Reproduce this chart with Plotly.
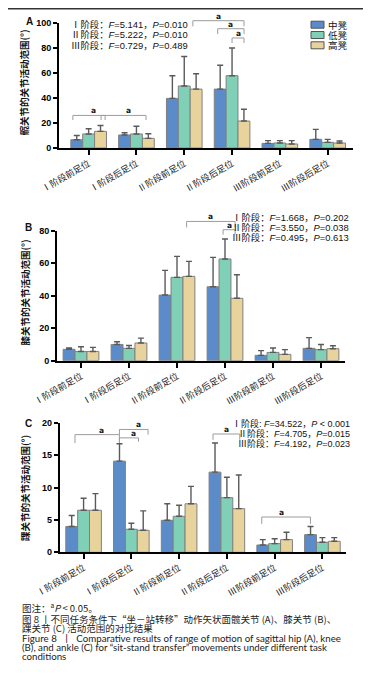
import plotly.graph_objects as go

W, H = 371, 692

categories = ["Ⅰ阶段前足位", "Ⅰ阶段后足位", "Ⅱ阶段前足位", "Ⅱ阶段后足位", "Ⅲ阶段前足位", "Ⅲ阶段后足位"]
series_names = ["中凳", "低凳", "高凳"]
series_colors = ["#5B8BC9", "#7FD0B7", "#E8D39D"]

# Hip (A)
hip_mean = {"中凳": [6.6, 10.4, 39.6, 47.0, 3.7, 6.9],
            "低凳": [11.2, 11.2, 49.5, 57.7, 4.0, 4.5],
            "高凳": [13.3, 7.7, 47.0, 21.5, 3.2, 4.0]}
hip_sd = {"中凳": [3.4, 1.8, 18.1, 19.0, 2.2, 8.0],
          "低凳": [4.2, 6.1, 23.5, 22.1, 1.9, 2.4],
          "高凳": [4.7, 3.7, 12.3, 9.4, 2.7, 1.6]}
# Knee (B)
knee_mean = {"中凳": [7.0, 10.0, 40.4, 45.5, 3.3, 7.6],
             "低凳": [5.7, 7.6, 51.3, 62.6, 5.1, 6.8],
             "高凳": [5.7, 10.9, 51.9, 38.4, 3.9, 7.4]}
knee_sd = {"中凳": [0.8, 1.7, 15.2, 18.1, 2.9, 6.6],
           "低凳": [2.9, 1.8, 12.9, 12.3, 2.7, 3.2],
           "高凳": [2.5, 3.0, 9.2, 14.5, 2.9, 1.8]}
# Ankle (C)
ankle_mean = {"中凳": [4.0, 14.1, 4.95, 12.4, 1.13, 2.73],
              "低凳": [6.5, 3.56, 5.57, 8.45, 1.34, 1.55],
              "高凳": [6.5, 3.4, 7.5, 6.75, 1.96, 1.7]}
ankle_sd = {"中凳": [1.7, 2.7, 2.55, 4.5, 0.83, 1.27],
            "低凳": [1.85, 0.94, 1.7, 3.15, 0.76, 0.72],
            "高凳": [2.57, 3.0, 2.7, 5.21, 1.14, 0.57]}

hip_stats = ["Ⅰ阶段：<i>F</i>=5.141，<i>P</i>=0.010",
             "Ⅱ阶段：<i>F</i>=5.222，<i>P</i>=0.010",
             "Ⅲ阶段：<i>F</i>=0.729，<i>P</i>=0.489"]
knee_stats = ["Ⅰ阶段：<i>F</i>=1.668，<i>P</i>=0.202",
              "Ⅱ阶段：<i>F</i>=3.550，<i>P</i>=0.038",
              "Ⅲ阶段：<i>F</i>=0.495，<i>P</i>=0.613"]
ankle_stats = ["Ⅰ阶段: <i>F</i>=34.522，<i>P</i> < 0.001",
               "Ⅱ阶段：<i>F</i>=4.705，<i>P</i>=0.015",
               "Ⅲ阶段：<i>F</i>=4.192，<i>P</i>=0.023"]

# significance brackets: (x0, x1, y, leg) in data units
hip_brackets = [(-0.33, 0.345, 26, 3.7), (0.26, 1.2, 26, 3.7),
                (2.18, 3.25, 101.6, 4.5), (2.70, 3.25, 95.2, 4.3), (3.0, 3.25, 87.8, 4.0)]
knee_brackets = [(2.2, 3.21, 85.7, 3.7), (2.96, 3.21, 80.6, 3.0)]
ankle_brackets = [(-0.18, 0.75, 18.2, 1.3), (0.75, 1.35, 19.0, 0.8), (0.75, 1.15, 17.7, 0.6),
                  (2.71, 3.27, 18.3, 0.9), (3.73, 4.75, 5.46, 1.06)]

def pxx(p):
    return p / W

def pyy(p):
    return 1 - p / H

CJK = "Noto Sans CJK SC"
LAT = "Liberation Sans, Noto Sans CJK SC"

panels = [
    dict(mean=hip_mean, sd=hip_sd, xd=(51, 345), yd=(140, 14.7), xr=(-0.62, 5.53), yr=(0, 100), dt=20,
         title="髋关节的关节活动范围(°)", tx=15.5, ty=75, letter="A", lx=21.5, ly=13.5,
         brackets=hip_brackets),
    dict(mean=knee_mean, sd=knee_sd, xd=(49, 337), yd=(352.7, 222.7), xr=(-0.5, 5.5), yr=(0, 80), dt=20,
         title="膝关节的关节活动范围(°)", tx=16.5, ty=285, letter="B", lx=20.5, ly=219,
         brackets=knee_brackets),
    dict(mean=ankle_mean, sd=ankle_sd, xd=(51.7, 338.3), yd=(544.3, 415), xr=(-0.5, 5.5), yr=(0, 20), dt=5,
         title="踝关节的关节活动范围(°)", tx=17, ty=480, letter="C", lx=20.5, ly=415.5,
         brackets=ankle_brackets),
]

fig = go.Figure()
annotations = []
shapes = []
xs = list(range(len(categories)))

for i, p in enumerate(panels):
    k = "" if i == 0 else str(i + 1)
    xa, ya = "x" + k, "y" + k
    for name, col in zip(series_names, series_colors):
        fig.add_trace(go.Bar(
            x=xs, y=p["mean"][name], name=name, marker=dict(color=col, line=dict(color="#808080", width=1)),
            error_y=dict(type="data", symmetric=False, array=p["sd"][name], arrayminus=[0] * 6,
                         color="#5a5a5a", thickness=1.4, width=3),
            xaxis=xa, yaxis=ya, showlegend=False, offsetgroup=name))
    xr0, xr1 = p["xr"]
    yr0, yr1 = p["yr"]
    for (x0, x1, y, leg) in p["brackets"]:
        fx0 = (x0 - xr0) / (xr1 - xr0)
        fx1 = (x1 - xr0) / (xr1 - xr0)
        fy = (y - yr0) / (yr1 - yr0)
        fyl = (y - leg - yr0) / (yr1 - yr0)
        shapes.append(dict(type="path", xref=xa + " domain", yref=ya + " domain",
                           path=f"M{fx0},{fyl} L{fx0},{fy} L{fx1},{fy} L{fx1},{fyl}",
                           line=dict(color="#9c9c9c", width=1)))
        annotations.append(dict(x=(fx0 + fx1) / 2, y=fy, xref=xa + " domain", yref=ya + " domain",
                                text="<b>a</b>", showarrow=False, yanchor="bottom", yshift=-2,
                                font=dict(family="DejaVu Sans", size=7.5, color="rgb(20,20,20)")))
    axk = "xaxis" + k
    ayk = "yaxis" + k
    fig.layout[axk] = dict(domain=[pxx(p["xd"][0]), pxx(p["xd"][1])], range=list(p["xr"]),
                           tickmode="array", tickvals=xs, ticktext=categories, tickangle=-30,
                           tickfont=dict(family=CJK, size=9, color="#222"), automargin=False,
                           showline=True, linecolor="black", linewidth=2, ticks="outside",
                           ticklen=5, tickwidth=2, tickcolor="black", showgrid=False, zeroline=False,
                           anchor=ya, fixedrange=True)
    fig.layout[ayk] = dict(domain=[pyy(p["yd"][0]), pyy(p["yd"][1])], range=list(p["yr"]),
                           tickmode="linear", tick0=0, dtick=p["dt"], automargin=False,
                           tickfont=dict(family=LAT, size=9, color="black", weight="bold"),
                           showline=True, linecolor="black", linewidth=2, ticks="outside",
                           ticklen=4, tickwidth=2, tickcolor="black", showgrid=False, zeroline=False,
                           anchor=xa, fixedrange=True)
    annotations.append(dict(x=pxx(p["tx"]), y=pyy(p["ty"]), xref="paper", yref="paper", text=p["title"],
                            textangle=-90, showarrow=False, xanchor="center", yanchor="middle",
                            font=dict(family=CJK, size=9.5, color="#111", weight="bold")))
    annotations.append(dict(x=pxx(p["lx"]), y=pyy(p["ly"]), xref="paper", yref="paper", text=p["letter"],
                            showarrow=False, xanchor="center", yanchor="middle",
                            font=dict(family=LAT, size=10, color="#111", weight="bold")))

# stats text
for j, t in enumerate(hip_stats):
    annotations.append(dict(x=pxx(61), y=pyy(16.7 + 10.2 * j), xref="paper", yref="paper", text=t,
                            showarrow=False, xanchor="left", yanchor="middle",
                            font=dict(family=LAT, size=9.4, color="#111")))
for j, t in enumerate(knee_stats):
    annotations.append(dict(x=pxx(343), y=pyy(209.3 + 9.9 * j), xref="paper", yref="paper", text=t,
                            showarrow=False, xanchor="right", yanchor="middle",
                            font=dict(family=LAT, size=9.4, color="#111")))
for j, t in enumerate(ankle_stats):
    annotations.append(dict(x=pxx(344), y=pyy(415 + 10 * j), xref="paper", yref="paper", text=t,
                            showarrow=False, xanchor="right", yanchor="middle",
                            font=dict(family=LAT, size=9.0, color="#111")))

# legend (panel A)
for j, (name, col) in enumerate(zip(series_names, series_colors)):
    yc = 16.7 + 10.3 * j
    shapes.append(dict(type="rect", xref="paper", yref="paper", x0=pxx(303), x1=pxx(316),
                       y0=pyy(yc + 3.5), y1=pyy(yc - 3.5), fillcolor=col, line=dict(color="#555", width=1)))
    annotations.append(dict(x=pxx(318), y=pyy(yc), xref="paper", yref="paper", text=name, showarrow=False,
                            xanchor="left", yanchor="middle", font=dict(family=CJK, size=9.5, color="#111")))

# top rule
shapes.append(dict(type="line", xref="paper", yref="paper", x0=0, x1=1, y0=pyy(0.7), y1=pyy(0.7),
                   line=dict(color="#333", width=1.5)))

caption_cn = ["图注：<sup>a</sup><i>P</i> < 0.05。",
              "图 8 丨不同任务条件下“坐－站转移”动作矢状面髋关节 (A)、膝关节 (B)、",
              "踝关节 (C) 活动范围的对比结果"]
caption_en = ["Figure 8  丨  Comparative results of range of motion of sagittal hip (A), knee",
              "(B), and ankle (C) for “sit-stand transfer” movements under different task",
              "conditions"]
cap_y = [599.5, 611.0, 620.2, 630.3, 639.4, 648.4]
for j, t in enumerate(caption_cn + caption_en):
    fam = CJK if j < 3 else "Lato, Noto Sans CJK SC"
    sz = 9.5 if j < 3 else 9.7
    annotations.append(dict(x=pxx(12), y=pyy(cap_y[j]), xref="paper", yref="paper", text=t, showarrow=False,
                            xanchor="left", yanchor="middle", font=dict(family=fam, size=sz, color="#222")))

fig.update_layout(template="none", width=W, height=H, margin=dict(l=0, r=0, t=0, b=0), paper_bgcolor="white",
                  plot_bgcolor="white", barmode="group", bargap=0.255, bargroupgap=0,
                  annotations=annotations, shapes=shapes, showlegend=False)

fig.write_html("out.html")
